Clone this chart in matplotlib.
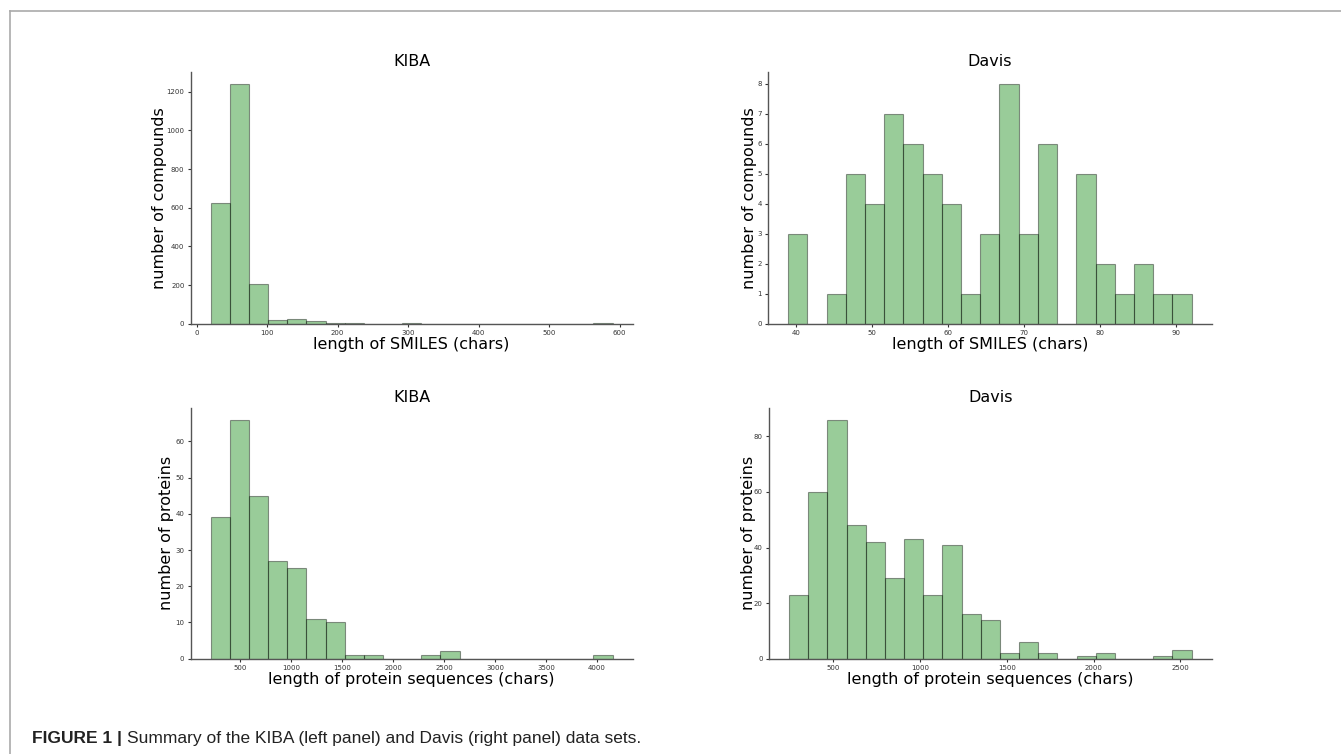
import numpy as np
import matplotlib
matplotlib.use("Agg")
import matplotlib.pyplot as plt
from matplotlib.lines import Line2D

# bin counts (21 equal-width bins per panel)
kiba_smiles_range = (20, 590)
kiba_smiles_counts = [622, 1240, 205, 18, 22, 12, 6, 2, 0, 0, 1, 0, 0, 0, 0, 0, 0, 0, 0, 0, 1]

davis_smiles_range = (39, 92)
davis_smiles_counts = [3, 0, 1, 5, 4, 7, 6, 5, 4, 1, 3, 8, 3, 6, 0, 5, 2, 1, 2, 1, 1]

kiba_prot_range = (215, 4152)
kiba_prot_counts = [39, 66, 45, 27, 25, 11, 10, 1, 1, 0, 0, 1, 2, 0, 0, 0, 0, 0, 0, 0, 1]

davis_prot_range = (244, 2565)
davis_prot_counts = [23, 60, 86, 48, 42, 29, 43, 23, 41, 16, 14, 2, 6, 2, 0, 1, 2, 0, 0, 1, 3]

panels = [
    ("KIBA", kiba_smiles_range, kiba_smiles_counts, "length of SMILES (chars)", "number of compounds",
     [0.1422, 0.5707, 0.3296, 0.3338], -0.054),
    ("Davis", davis_smiles_range, davis_smiles_counts, "length of SMILES (chars)", "number of compounds",
     [0.5727, 0.5707, 0.3309, 0.3338], -0.025),
    ("KIBA", kiba_prot_range, kiba_prot_counts, "length of protein sequences (chars)", "number of proteins",
     [0.1422, 0.1264, 0.3296, 0.3329], -0.038),
    ("Davis", davis_prot_range, davis_prot_counts, "length of protein sequences (chars)", "number of proteins",
     [0.5734, 0.1264, 0.3302, 0.3329], -0.029),
]

fig = plt.figure(figsize=(13.41, 7.54), dpi=100)

for title, rng, counts, xlabel, ylabel, pos, ylab_x in panels:
    ax = fig.add_axes(pos)
    edges = np.linspace(rng[0], rng[1], len(counts) + 1)
    centers = (edges[:-1] + edges[1:]) / 2
    ax.hist(centers, bins=edges, weights=counts, color="green", alpha=0.4,
            edgecolor="black", linewidth=0.8)
    ax.set_title(title, fontsize=11.5, pad=4)
    ax.set_xlabel(xlabel, fontsize=11.5, labelpad=1)
    ax.set_ylabel(ylabel, fontsize=11.5)
    ax.yaxis.set_label_coords(ylab_x, 0.5)
    ax.tick_params(labelsize=5, length=2.5, width=0.8, pad=2, colors="#333333")
    for s in ("top", "right"):
        ax.spines[s].set_visible(False)
    for s in ("left", "bottom"):
        ax.spines[s].set_color("#555555")
        ax.spines[s].set_linewidth(1.0)

# page frame lines
fig.add_artist(Line2D([9.5 / 1341, 9.5 / 1341], [0, 1 - 10.5 / 754], color="#aaaaaa", lw=1.2))
fig.add_artist(Line2D([9.5 / 1341, 1], [1 - 10.5 / 754, 1 - 10.5 / 754], color="#aaaaaa", lw=1.2))

# caption
cap_font = ["Liberation Sans Narrow", "Liberation Sans", "DejaVu Sans"]
t1 = fig.text(32 / 1341, 1 - 739 / 754, "FIGURE 1 |", fontsize=12.5, fontweight="bold",
              family=cap_font, va="center", color="#222222")
fig.canvas.draw()
bb = t1.get_window_extent(fig.canvas.get_renderer())
fig.text(bb.x1 / 1341 + 5 / 1341, 1 - 739 / 754,
         "Summary of the KIBA (left panel) and Davis (right panel) data sets.",
         fontsize=12.5, family=cap_font, va="center", color="#222222")

fig.savefig("out.png", dpi=100)
